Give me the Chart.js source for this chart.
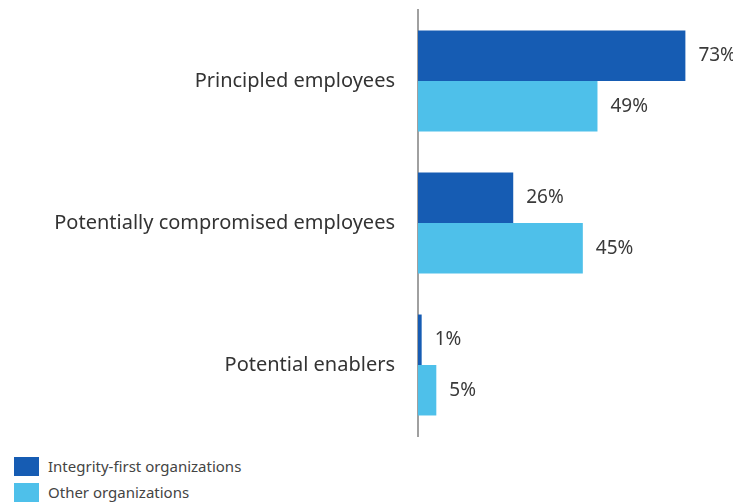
<!DOCTYPE html>
<html>
<head>
<meta charset="utf-8">
<script src="https://cdn.jsdelivr.net/npm/chart.js@4"></script>
<style>
  html, body { margin: 0; padding: 0; background: #ffffff; }
  #wrap { position: relative; width: 733px; height: 440px; }
  #legend { margin: 13px 0 0 14px; font-family: "Noto Sans", sans-serif; font-size: 15px; color: #444444; }
  .item { display: flex; align-items: center; height: 26px; }
  .swatch { width: 25px; height: 19px; margin-right: 9px; }
</style>
</head>
<body>
<div id="wrap"><canvas id="chart"></canvas></div>
<div id="legend"></div>
<script>
const categories = ["Principled employees", "Potentially compromised employees", "Potential enablers"];
const seriesNames = ["Integrity-first organizations", "Other organizations"];
const integrityFirst = [73, 26, 1];
const otherOrgs = [49, 45, 5];
const seriesColors = ["#165cb3", "#4ec0ea"];

// Writes "NN%" just past the end of each bar
const valueLabels = {
  id: "valueLabels",
  afterDatasetsDraw(chart) {
    const ctx = chart.ctx;
    ctx.save();
    ctx.font = '19px "Noto Sans", sans-serif';
    ctx.fillStyle = "#3a3a3a";
    ctx.textAlign = "left";
    ctx.textBaseline = "middle";
    chart.data.datasets.forEach((ds, i) => {
      chart.getDatasetMeta(i).data.forEach((bar, j) => {
        ctx.fillText(ds.data[j] + "%", bar.x + 13, bar.y);
      });
    });
    ctx.restore();
  }
};

const chart = new Chart(document.getElementById("chart"), {
  type: "bar",
  data: {
    labels: categories,
    datasets: [
      { label: seriesNames[0], data: integrityFirst, backgroundColor: seriesColors[0] },
      { label: seriesNames[1], data: otherOrgs, backgroundColor: seriesColors[1] }
    ]
  },
  options: {
    indexAxis: "y",
    responsive: true,
    maintainAspectRatio: false,
    animation: false,
    layout: { padding: { top: 10, bottom: 4, left: 0, right: 0 } },
    datasets: { bar: { categoryPercentage: 0.711, barPercentage: 1 } },
    plugins: { legend: { display: false }, tooltip: { enabled: false } },
    scales: {
      x: { display: false, min: 0, max: 86 },
      y: {
        afterFit(scale) {
          scale.width = 418;
          scale.paddingTop = 0;
          scale.paddingBottom = 0;
        },
        grid: { display: false, drawTicks: false },
        border: { display: true, color: "#a0a0a0", width: 2 },
        ticks: {
          padding: 23,
          color: "#333333",
          font: { family: '"Noto Sans", sans-serif', size: 20 }
        }
      }
    }
  },
  plugins: [valueLabels]
});

// Legend entries from the datasets
const legend = document.getElementById("legend");
chart.data.datasets.forEach(ds => {
  const row = document.createElement("div");
  row.className = "item";
  const sw = document.createElement("span");
  sw.className = "swatch";
  sw.style.background = ds.backgroundColor;
  const txt = document.createElement("span");
  txt.textContent = ds.label;
  row.appendChild(sw);
  row.appendChild(txt);
  legend.appendChild(row);
});
</script>
</body>
</html>
